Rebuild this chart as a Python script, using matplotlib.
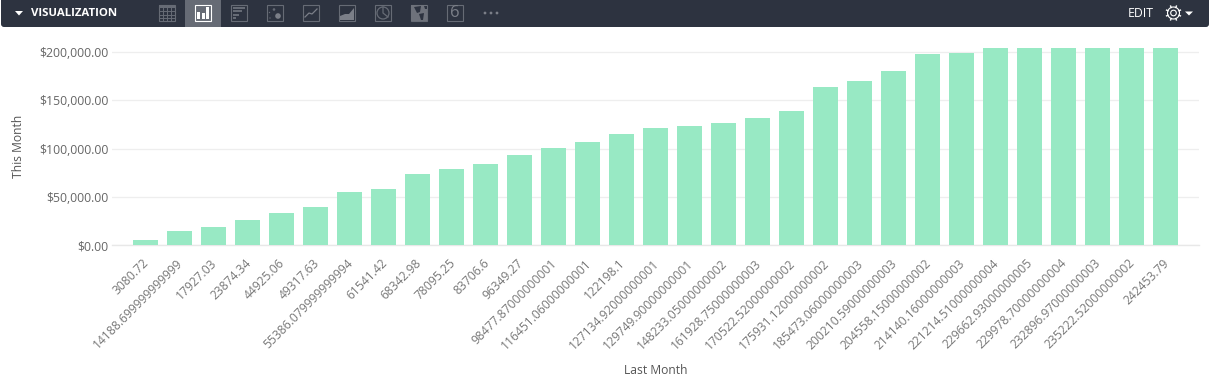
import numpy as np
import matplotlib
matplotlib.use('Agg')
import matplotlib.pyplot as plt
from matplotlib.patches import Rectangle, FancyBboxPatch, Circle, Polygon
from matplotlib.transforms import ScaledTranslation

plt.rcParams['font.family'] = ['Open Sans', 'DejaVu Sans']

last_month = ['3080.72', '14188.699999999999', '17927.03', '23874.34', '44925.06', '49317.63',
              '55386.079999999994', '61541.42', '68342.98', '78095.25', '83706.6', '96349.27',
              '98477.87000000001', '116451.06000000001', '122198.1', '127134.92000000001',
              '129749.90000000001', '148233.05000000002', '161928.75000000003', '170522.52000000002',
              '175931.12000000002', '185473.06000000003', '200210.59000000003', '204558.15000000002',
              '214140.16000000003', '221214.51000000004', '229662.93000000005', '229978.70000000004',
              '232896.97000000003', '235222.52000000002', '242453.79']
this_month = [5700, 15000, 19000, 26500, 33500, 40000, 55500, 58500, 74000, 79000, 84000,
              93500, 101000, 107000, 115000, 121500, 123500, 126500, 131500, 139000, 164000,
              170000, 180500, 198000, 199000, 204000, 204000, 204000, 204000, 204000, 204000]
y_ticks = [0, 50000, 100000, 150000, 200000]
toolbar_x = [167, 203, 239, 275, 311, 347, 383, 419, 455]

W, H = 1212, 389
fig = plt.figure(figsize=(W / 100, H / 100), dpi=100, facecolor='white')

# chart area
ax = fig.add_axes([112 / W, 1 - 245.5 / H, (1199 - 112) / W, (245.5 - 48) / H])
x = np.arange(len(this_month))
ax.bar(x, this_month, width=25 / 34, color='#98e9c4', zorder=3)
ax.set_xlim(-0.985, 30.985)
ax.set_ylim(0, 204000)
ax.set_yticks(y_ticks)
ax.set_yticklabels(['${:,.2f}'.format(v) for v in y_ticks], fontsize=8.8, color='#666666')
ax.set_xticks(x)
ax.set_xticklabels(last_month, rotation=45, ha='right', va='top', rotation_mode='anchor',
                   fontsize=8.7, color='#777777')
ax.tick_params(axis='both', length=0)
ax.tick_params(axis='x', pad=8)
ax.tick_params(axis='y', pad=2.5)
# nudge rotated labels left and down a bit
shift = ScaledTranslation(-3 / 100, 0, fig.dpi_scale_trans)
for lab in ax.get_xticklabels():
    lab.set_transform(lab.get_transform() + shift)
ax.grid(axis='y', color='#eeeeee', linewidth=0.9, zorder=0)
ax.set_axisbelow(True)
for s in ax.spines.values():
    s.set_visible(False)
ax.spines['bottom'].set_visible(True)
ax.spines['bottom'].set_color('#e8e8e8')
ax.spines['bottom'].set_linewidth(1.0)

# labels and toolbar drawn in pixel space
ov = fig.add_axes([0, 0, 1, 1], facecolor='none')
ov.set_xlim(0, W)
ov.set_ylim(H, 0)
ov.axis('off')

ov.text(18, 146.5, 'This Month', rotation=90, ha='center', va='center', fontsize=8.7, color='#555555')
ov.text(655.5, 370, 'Last Month', ha='center', va='center', fontsize=8.7, color='#555555')

dark = '#2d3340'
icon = '#666b75'
ov.add_patch(FancyBboxPatch((1, -6), 1208, 33, boxstyle='round,pad=0,rounding_size=3', fc=dark, ec='none'))
ov.add_patch(Rectangle((185, 0), 36, 27, fc='#666b75', ec='none'))
ov.add_patch(Polygon([(15, 11), (23, 11), (19, 15.5)], fc='white', ec='none'))
ov.text(31, 13.5, 'VISUALIZATION', ha='left', va='center', fontsize=8.2, fontweight='bold', color='white')

for i, cx in enumerate(toolbar_x):
    c = 'white' if i == 1 else icon
    ov.add_patch(Rectangle((cx - 8, 5), 16, 16, fc='none', ec=c, lw=0.8))

# table
ov.add_patch(Rectangle((159, 5), 16, 3, fc=icon, ec='none'))
for k in range(1, 4):
    ov.plot([159, 175], [8 + 3.3 * k] * 2, color=icon, lw=0.7)
    ov.plot([159 + 4 * k] * 2, [5, 21], color=icon, lw=0.7)
# bars
for bx, by in [(197, 12), (201.5, 13), (206, 7)]:
    ov.add_patch(Rectangle((bx, by), 3.2, 19 - by, fc='white', ec='none'))
# horizontal bars
for by, bw in [(7, 12), (10.3, 9), (13.6, 6), (17, 3)]:
    ov.add_patch(Rectangle((233, by), bw, 2, fc=icon, ec='none'))
# scatter
ov.add_patch(Circle((278, 16), 2.8, fc='#7b7f88', ec='none'))
ov.add_patch(Circle((274, 9.5), 1.3, fc=icon, ec='none'))
ov.add_patch(Circle((269.5, 12.5), 0.7, fc=icon, ec='none'))
ov.add_patch(Circle((270, 18), 0.7, fc=icon, ec='none'))
# line
ov.plot([305, 309, 312, 317], [17, 13, 14, 9], color='#7b7f88', lw=0.9)
# area
ov.add_patch(Polygon([(340, 20), (340, 16), (345, 14), (349, 14), (354, 8), (354, 20)], fc='#7b7f88', ec='none'))
# pie
ov.add_patch(Circle((383, 13), 6, fc='none', ec=icon, lw=0.9))
ov.plot([383, 383, 388], [7, 13, 17], color=icon, lw=0.9)
# map
ov.add_patch(Rectangle((411, 5), 16, 16, fc='#6e727b', ec='none'))
ov.add_patch(Polygon([(414, 7), (421, 6), (420, 12), (417, 13)], fc=dark, ec='none'))
ov.add_patch(Polygon([(419, 14), (424, 13), (423, 20), (421, 20)], fc=dark, ec='none'))
ov.add_patch(Polygon([(424, 6), (427, 6), (427, 9), (425, 9)], fc=dark, ec='none'))
# single value
ov.text(455, 13, '6', ha='center', va='center', fontsize=12, color='#7b7f88')
# more
for dx in [485, 491, 497]:
    ov.add_patch(Circle((dx, 13), 1.4, fc='#7b7f88', ec='none'))

ov.text(1141, 13.5, 'EDIT', ha='center', va='center', fontsize=8.8, color='white')
ov.add_patch(Circle((1173.5, 13), 2.8, fc='none', ec='white', lw=0.8))
ov.add_patch(Circle((1173.5, 13), 6, fc='none', ec='white', lw=0.8))
for a in np.arange(0, 360, 45):
    r = np.deg2rad(a + 22.5)
    ov.plot([1173.5 + 6 * np.cos(r), 1173.5 + 7.5 * np.cos(r)],
            [13 + 6 * np.sin(r), 13 + 7.5 * np.sin(r)], color='white', lw=1.0)
ov.add_patch(Polygon([(1185, 11.5), (1193, 11.5), (1189, 15.5)], fc='white', ec='none'))

fig.savefig('out.png', dpi=100)
